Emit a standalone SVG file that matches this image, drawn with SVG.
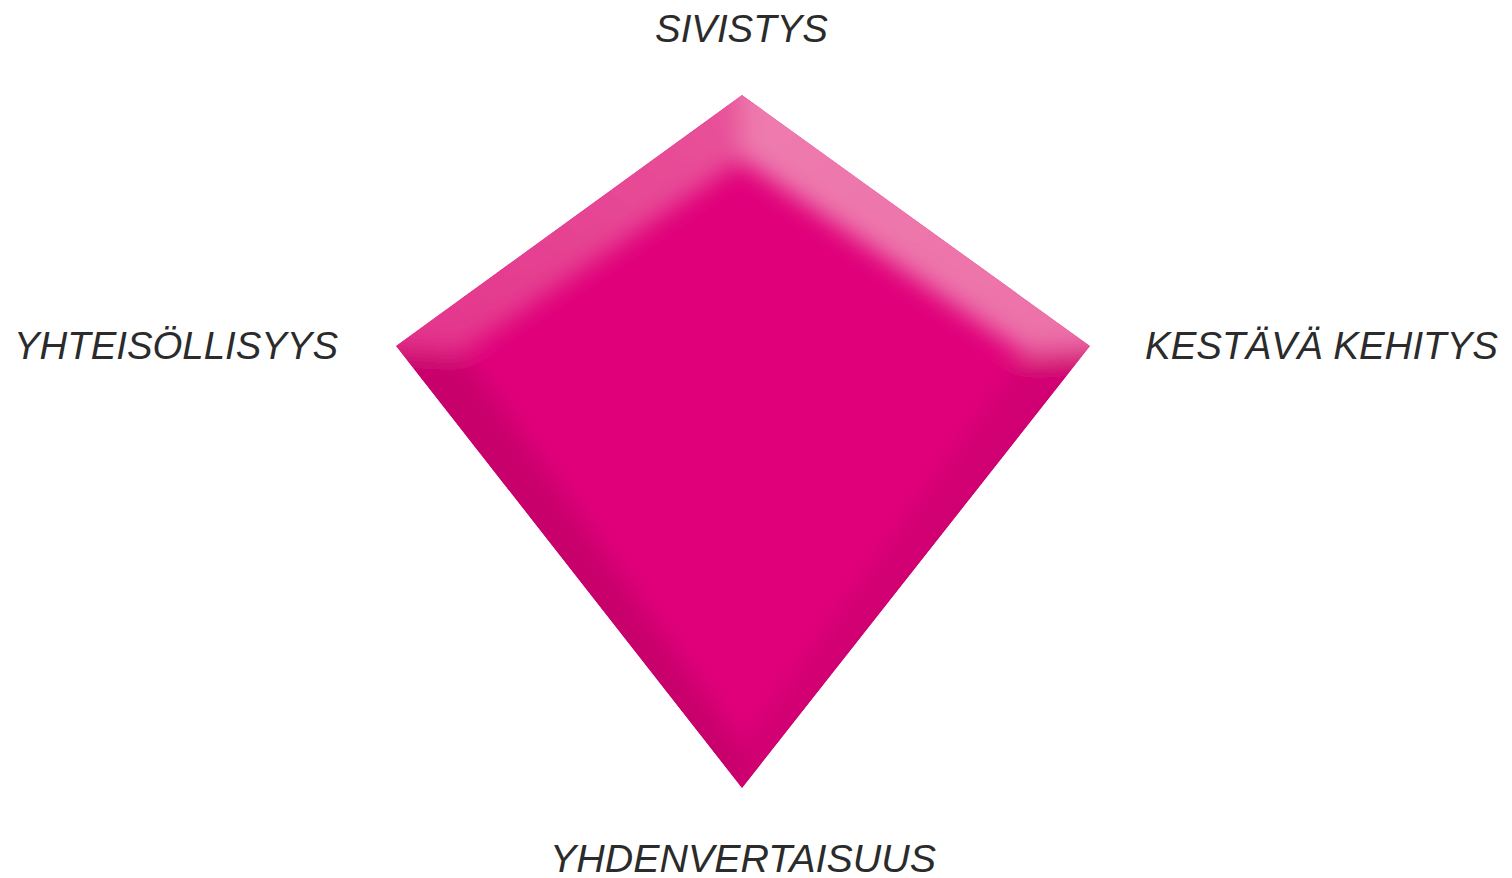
<svg xmlns="http://www.w3.org/2000/svg" width="1512" height="878" viewBox="0 0 1512 878">
  <style>
    .lbl { font-family: "Liberation Sans", "DejaVu Sans", sans-serif; font-style: italic; font-size: 38px; fill: #2b2b2b; }
  </style>
  <defs>
    <clipPath id="kiteClip">
      <polygon points="742,95 1090,346 742,788 396,346"/>
    </clipPath>
    <filter id="soft" x="-20%" y="-20%" width="140%" height="140%">
      <feGaussianBlur stdDeviation="12"/>
    </filter>
    <linearGradient id="gTL" x1="0" y1="1" x2="1" y2="0">
      <stop offset="0" stop-color="#e2328a"/>
      <stop offset="1" stop-color="#e9569c"/>
    </linearGradient>
    <linearGradient id="gTR" x1="0" y1="0" x2="1" y2="1">
      <stop offset="0" stop-color="#ee7caf"/>
      <stop offset="1" stop-color="#ec70a8"/>
    </linearGradient>
  </defs>
  <rect width="1512" height="878" fill="#ffffff"/>

  <g id="kite">
    <g clip-path="url(#kiteClip)">
      <polygon points="742,95 1090,346 742,788 396,346" fill="#e0007a"/>
      <g filter="url(#soft)">
        <polygon points="350,346 742,50 742,160 462,352" fill="url(#gTL)"/>
        <polygon points="742,50 1135,346 1026,354 742,160" fill="url(#gTR)"/>
        <polygon points="350,346 742,840 742,748 468,360" fill="#c8006c"/>
        <polygon points="1135,346 742,840 742,748 1022,360" fill="#d10072"/>
      </g>
    </g>
  </g>

  <g id="labels">
    <text id="sivistys" class="lbl" x="655" y="42" textLength="173" lengthAdjust="spacingAndGlyphs">SIVISTYS</text>
    <text id="yhteisollisyys" class="lbl" x="14" y="359" textLength="324" lengthAdjust="spacingAndGlyphs">YHTEISÖLLISYYS</text>
    <text id="kestava" class="lbl" x="1145" y="359" textLength="353" lengthAdjust="spacingAndGlyphs">KESTÄVÄ KEHITYS</text>
    <text id="yhdenvertaisuus" class="lbl" x="550" y="872" textLength="386" lengthAdjust="spacingAndGlyphs">YHDENVERTAISUUS</text>
  </g>
  <g id="connectors"/>
</svg>
